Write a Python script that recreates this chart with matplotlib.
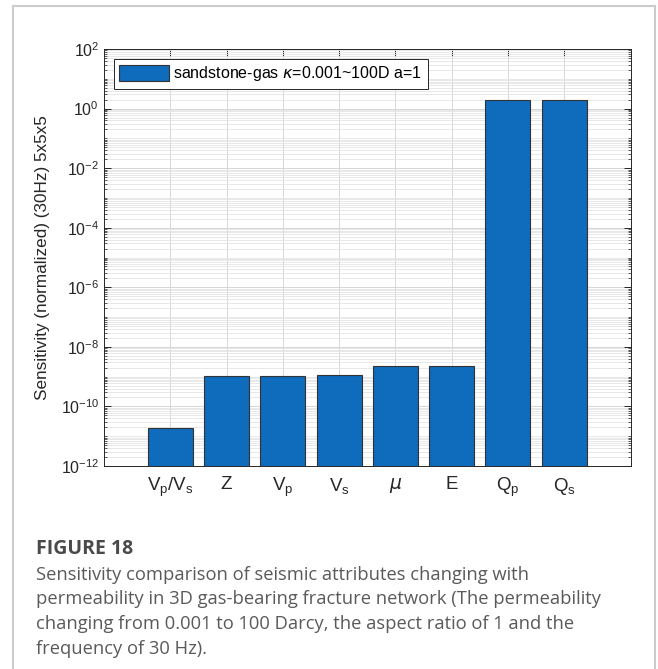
import numpy as np
import matplotlib
matplotlib.use('Agg')
from matplotlib import pyplot as plt
from matplotlib.ticker import LogLocator, FixedLocator, NullFormatter
from matplotlib.lines import Line2D

plt.rcParams['font.family'] = ['Liberation Sans', 'DejaVu Sans']
plt.rcParams['mathtext.default'] = 'regular'

# attributes and their sensitivities
attributes = [r'V$_p$/V$_s$', 'Z', r'V$_p$', r'V$_s$', r'$\it{\mu}$', 'E', r'Q$_p$', r'Q$_s$']
sensitivity = [1.9e-11, 1.07e-9, 1.07e-9, 1.1e-9, 2.3e-9, 2.3e-9, 2.0, 2.0]
legend_label = r'sandstone-gas $\it{\kappa}$=0.001~100D a=1'
ylabel = 'Sensitivity (normalized) (30Hz) 5x5x5'
caption_title = 'FIGURE 18'
caption_lines = [
    'Sensitivity comparison of seismic attributes changing with',
    'permeability in 3D gas-bearing fracture network (The permeability',
    'changing from 0.001 to 100 Darcy, the aspect ratio of 1 and the',
    'frequency of 30 Hz).',
]

fig = plt.figure(figsize=(6.58, 6.69), dpi=100)
ax = fig.add_axes([0.158, 0.3034, 0.801, 0.6233])

x = np.arange(1, len(attributes) + 1)
ax.bar(x, sensitivity, width=0.8, color='#0f6cbd', edgecolor='#333333',
       linewidth=0.8, label=legend_label, zorder=3)

ax.set_yscale('log')
ax.set_ylim(1e-12, 1e2)
ax.set_xlim(-0.18, 9.19)
ax.yaxis.set_major_locator(FixedLocator([10.0 ** k for k in range(-12, 3, 2)]))
ax.yaxis.set_minor_locator(LogLocator(base=10, subs=np.arange(1, 10), numticks=100))
ax.yaxis.set_minor_formatter(NullFormatter())
ax.set_xticks(x)
ax.set_xticklabels(attributes)

ax.tick_params(axis='both', which='both', direction='in', top=True, right=True,
               colors='#262626', labelsize=11.5)
ax.tick_params(axis='x', which='major', labelsize=13.5, pad=7)
ax.tick_params(axis='both', which='major', length=5, width=0.7)
ax.tick_params(axis='y', which='minor', length=2.5, width=0.5)

ax.grid(True, which='major', color='#d6d6d6', linewidth=0.7, zorder=0)
ax.grid(True, which='minor', axis='y', color='#e4e4e4', linewidth=0.6, zorder=0)
ax.set_axisbelow(True)
for s in ax.spines.values():
    s.set_color('#262626')
    s.set_linewidth(0.7)

ax.set_ylabel(ylabel, fontsize=12.3, color='#262626', labelpad=8)

leg = ax.legend(loc='upper left', fontsize=11.5, handlelength=3.1, handleheight=1.2,
                fancybox=False, framealpha=1, edgecolor='#262626',
                borderpad=0.35, handletextpad=0.3, borderaxespad=0.6)
leg.get_frame().set_linewidth(0.7)

# outer frame of the figure panel
W, H = 658.0, 669.0
frame_kw = dict(color='#cccccc', linewidth=1.5, transform=fig.transFigure)
fig.add_artist(Line2D([13 / W, 13 / W], [0, 1 - 6 / H], **frame_kw))
fig.add_artist(Line2D([13 / W, 655 / W], [1 - 6 / H, 1 - 6 / H], **frame_kw))
fig.add_artist(Line2D([655 / W, 655 / W], [0, 1 - 6 / H], **frame_kw))

# caption
fig.text(36 / W, 1 - 549 / H, caption_title, fontsize=14, fontweight='bold',
         color='#4a4a4a', family='Open Sans', va='center')
for i, line in enumerate(caption_lines):
    fig.text(36 / W, 1 - (575 + 24.5 * i) / H, line, fontsize=13.2,
             color='#5a5a5a', family='Open Sans', va='center')

fig.savefig('out.png', dpi=100)
